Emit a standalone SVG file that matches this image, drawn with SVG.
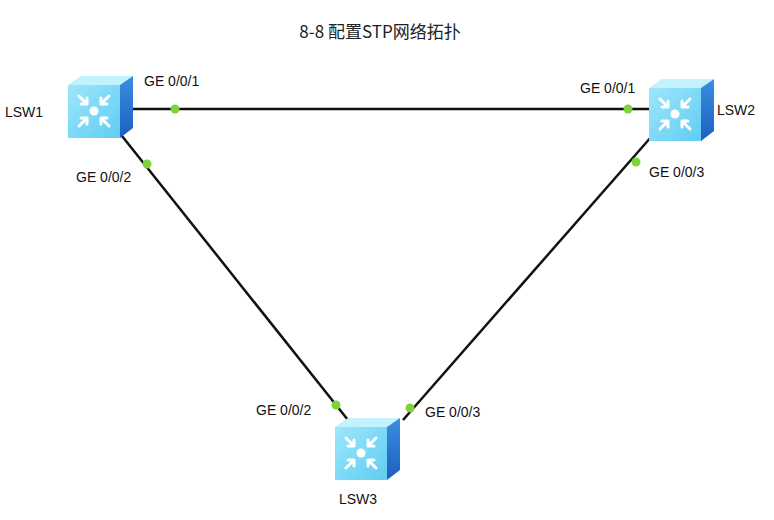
<svg xmlns="http://www.w3.org/2000/svg" width="774" height="520" viewBox="0 0 774 520">
<style>
.t{font-family:"Liberation Sans",Arial,sans-serif;font-size:14px;fill:#111}
.l{stroke:#111;stroke-width:2.5;fill:none}
.d{fill:#7ed23a}
</style>
<defs>
<linearGradient id="fg" x1="0" y1="0" x2="1" y2="1"><stop offset="0" stop-color="#9ee6fb"/><stop offset="1" stop-color="#5fcdf2"/></linearGradient>
<linearGradient id="sg" x1="0" y1="0" x2="0" y2="1"><stop offset="0" stop-color="#3a8ee0"/><stop offset="1" stop-color="#1d5fc0"/></linearGradient>
<g id="sw">
<polygon points="0,9 13,0 65,0 52,9" fill="#c2f2fd"/>
<polygon points="52,9 65,0 65,52 52,62" fill="url(#sg)"/>
<rect x="0" y="9" width="52" height="53" fill="url(#fg)"/>
<g stroke="#fff" stroke-width="3" fill="none" stroke-linecap="round">
<circle cx="26" cy="35" r="4.5" fill="#fff" stroke="none"/>
<path d="M11 20 L19 28 M19 28 h-6 M19 28 v-6"/>
<path d="M41 20 L33 28 M33 28 h6 M33 28 v-6"/>
<path d="M11 50 L19 42 M19 42 h-6 M19 42 v6"/>
<path d="M41 50 L33 42 M33 42 h6 M33 42 v6"/>
</g>
</g>
</defs>
<text x="380" y="38" text-anchor="middle" style="font-family:'Noto Sans CJK SC','DejaVu Sans Mono',sans-serif;font-size:17px;fill:#222">8-8 配置STP网络拓扑</text>
<g id="connectors">
<line class="l" x1="130" y1="109" x2="650" y2="109"/>
<line class="l" x1="122" y1="136" x2="348" y2="420"/>
<line class="l" x1="652" y1="136" x2="403" y2="420"/>
<circle class="d" cx="175" cy="109" r="4.5"/>
<circle class="d" cx="628" cy="109" r="4.5"/>
<circle class="d" cx="147" cy="164" r="4.5"/>
<circle class="d" cx="636" cy="162" r="4.5"/>
<circle class="d" cx="336" cy="405" r="4.5"/>
<circle class="d" cx="410" cy="408" r="4.5"/>
<text class="t" x="144" y="86">GE 0/0/1</text>
<text class="t" x="76" y="182">GE 0/0/2</text>
<text class="t" x="580" y="93">GE 0/0/1</text>
<text class="t" x="649" y="177">GE 0/0/3</text>
<text class="t" x="256" y="415">GE 0/0/2</text>
<text class="t" x="425" y="417">GE 0/0/3</text>
</g>
<g id="LSW1"><use href="#sw" x="68" y="76"/><text class="t" x="5" y="117">LSW1</text></g>
<g id="LSW2"><use href="#sw" x="649" y="79"/><text class="t" x="717" y="115">LSW2</text></g>
<g id="LSW3"><use href="#sw" x="335" y="418"/><text class="t" x="339" y="504">LSW3</text></g>
</svg>
